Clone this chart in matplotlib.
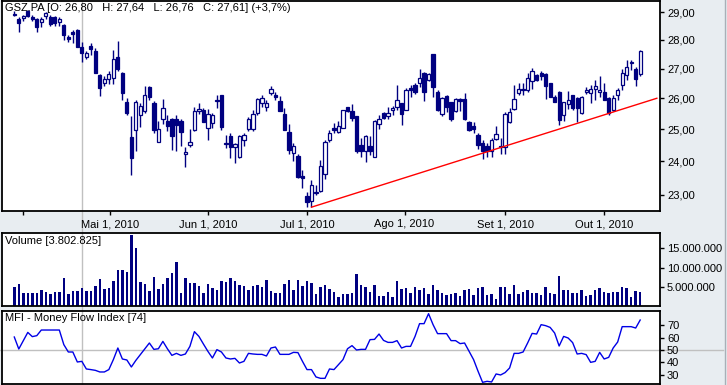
import numpy as np
import pandas as pd
import matplotlib
matplotlib.use('Agg')
import matplotlib.pyplot as plt
from matplotlib.lines import Line2D
from matplotlib.ticker import FixedLocator, NullLocator

plt.rcParams['font.family'] = ['Liberation Sans', 'DejaVu Sans']

# trading days Mar 30 - Oct 13 2010 (Euronext closed Apr 2 and Apr 5)
dates = pd.bdate_range('2010-03-30', '2010-10-13')
dates = dates[~dates.isin(pd.to_datetime(['2010-04-02', '2010-04-05']))]

opens = [28.95, 28.75, 28.78, 29.05, 28.84, 28.75, 28.66, 28.88, 28.84, 28.84,
         28.66, 28.53, 28.10, 28.28, 28.35, 27.74, 27.39, 27.78, 27.62, 26.79,
         26.51, 26.64, 26.68, 27.39, 26.84, 25.87, 24.74, 24.96, 25.44, 25.59,
         26.38, 25.84, 24.61, 25.33, 25.27, 25.33, 25.31, 25.27, 24.21, 24.50,
         24.98, 25.57, 25.60, 25.03, 25.19, 25.90, 26.10, 24.57, 24.77, 24.45,
         24.14, 24.67, 25.00, 25.00, 25.52, 25.84, 25.72, 26.17, 26.10, 25.92,
         25.49, 24.90, 24.26, 24.17, 23.55, 22.95, 22.82, 23.05, 23.12, 23.62,
         24.66, 25.02, 24.92, 25.05, 25.71, 25.59, 25.41, 24.50, 24.30, 24.46,
         24.12, 25.17, 25.52, 25.41, 25.63, 25.72, 25.84, 25.62, 26.33, 26.45,
         26.51, 26.85, 26.60, 27.50, 26.21, 25.48, 26.07, 25.89, 25.57, 25.97,
         25.97, 25.24, 25.10, 24.82, 24.55, 24.46, 24.30, 24.69, 24.45, 24.45,
         25.24, 25.65, 26.18, 26.31, 26.28, 26.57, 26.79, 26.85, 26.82, 26.50,
         26.05, 26.21, 25.44, 25.81, 26.10, 26.00, 25.52, 26.20, 26.18, 26.31,
         26.21, 26.21, 26.00, 25.62, 26.10, 26.45, 26.79, 27.18, 26.99, 26.80]
highs = [29.05, 28.84, 28.90, 29.10, 28.90, 28.78, 28.82, 29.00, 28.90, 28.87,
         28.82, 28.57, 28.17, 28.35, 28.38, 27.93, 27.62, 27.90, 27.70, 26.82,
         26.75, 26.93, 27.66, 27.95, 26.87, 26.02, 25.43, 25.95, 25.84, 26.40,
         26.40, 25.91, 25.27, 25.99, 25.46, 25.35, 25.46, 25.33, 24.45, 25.00,
         25.70, 25.86, 25.68, 25.65, 25.52, 26.10, 26.12, 24.82, 24.88, 24.55,
         24.80, 24.88, 25.38, 25.62, 26.02, 26.10, 25.95, 26.40, 26.22, 26.07,
         25.68, 25.17, 24.55, 24.23, 23.74, 23.07, 23.45, 23.28, 24.04, 24.67,
         24.96, 25.21, 25.27, 25.63, 25.72, 25.81, 25.43, 24.72, 24.82, 24.77,
         25.30, 25.46, 25.56, 25.72, 25.75, 26.45, 25.86, 26.35, 26.45, 26.52,
         26.98, 26.87, 26.85, 27.50, 26.28, 26.05, 26.12, 25.89, 26.00, 26.00,
         26.16, 25.27, 25.24, 24.89, 24.67, 24.55, 24.72, 25.10, 24.72, 25.54,
         25.68, 26.45, 26.52, 26.50, 26.85, 27.01, 26.82, 26.93, 26.85, 26.52,
         26.10, 26.23, 25.89, 26.23, 26.12, 26.03, 26.07, 26.38, 26.45, 26.61,
         26.75, 26.52, 26.03, 26.12, 26.35, 26.98, 27.30, 27.30, 27.05, 27.64]
lows = [28.85, 28.29, 28.70, 28.82, 28.70, 28.29, 28.47, 28.74, 28.51, 28.50,
        28.50, 27.99, 27.93, 27.90, 27.74, 27.24, 27.32, 27.48, 26.84, 26.07,
        26.42, 26.48, 26.48, 26.93, 25.95, 25.46, 23.59, 24.30, 25.08, 25.52,
        25.95, 24.88, 24.58, 25.15, 24.93, 24.35, 24.30, 24.46, 23.84, 24.44,
        24.95, 25.48, 25.24, 24.67, 25.03, 25.68, 24.98, 24.42, 24.09, 23.94,
        24.10, 24.46, 24.95, 24.93, 25.46, 25.72, 25.59, 26.11, 25.95, 25.57,
        24.96, 24.23, 24.02, 23.50, 23.20, 22.64, 22.64, 22.99, 23.09, 23.46,
        24.61, 24.89, 24.88, 25.03, 25.54, 25.27, 24.25, 24.14, 23.97, 24.20,
        24.12, 25.00, 25.31, 25.31, 25.46, 25.62, 25.14, 25.60, 26.05, 26.14,
        26.38, 25.92, 26.57, 26.05, 25.59, 25.43, 25.54, 25.27, 25.54, 25.57,
        25.30, 24.93, 24.88, 24.38, 24.06, 24.12, 24.14, 24.67, 24.23, 24.23,
        25.19, 25.62, 26.11, 26.11, 26.22, 26.31, 26.57, 26.62, 25.97, 26.03,
        25.87, 25.14, 25.27, 25.65, 25.62, 25.22, 25.50, 26.14, 25.86, 25.95,
        26.05, 25.95, 25.44, 25.59, 25.95, 26.28, 26.62, 26.96, 26.40, 26.76]
closes = [28.90, 28.60, 28.86, 28.86, 28.77, 28.47, 28.75, 28.96, 28.56, 28.60,
          28.75, 28.17, 28.05, 28.22, 27.76, 27.53, 27.55, 27.67, 26.85, 26.35,
          26.65, 26.82, 27.32, 26.98, 26.16, 25.52, 24.09, 25.87, 25.75, 26.10,
          26.05, 24.96, 25.00, 25.68, 25.10, 24.77, 25.14, 24.90, 24.27, 24.60,
          25.59, 25.65, 25.24, 25.48, 25.46, 25.93, 25.06, 24.53, 24.44, 24.52,
          24.77, 24.82, 25.31, 25.49, 25.97, 26.00, 25.84, 26.31, 26.05, 25.59,
          24.98, 24.35, 24.46, 23.52, 23.50, 22.78, 23.28, 23.08, 23.87, 24.60,
          24.89, 24.98, 25.10, 25.62, 25.59, 25.35, 24.30, 24.30, 24.79, 24.30,
          25.26, 25.33, 25.35, 25.52, 25.67, 25.95, 25.48, 26.27, 26.29, 26.21,
          26.68, 26.21, 26.82, 26.38, 25.62, 26.00, 25.72, 25.33, 25.97, 25.91,
          25.31, 24.96, 25.00, 24.51, 24.30, 24.30, 24.67, 24.84, 24.48, 25.48,
          25.56, 25.97, 26.31, 26.27, 26.68, 26.93, 26.60, 26.76, 26.42, 26.05,
          25.89, 25.30, 25.87, 25.95, 25.68, 25.68, 26.05, 26.28, 26.31, 26.41,
          26.28, 25.95, 25.52, 26.00, 26.28, 26.85, 27.05, 27.22, 26.64, 27.61]

# volume in millions of shares
volume = [5.0, 5.8, 3.45, 3.45, 3.45, 3.45, 4.2, 3.7, 3.2, 3.7,
          3.7, 7.3, 3.2, 4.0, 4.0, 4.7, 4.0, 4.0, 5.3, 7.1,
          4.5, 4.7, 6.6, 9.4, 9.4, 8.9, 18.4, 15.1, 6.3, 5.8,
          4.0, 7.6, 4.5, 5.8, 7.3, 8.6, 11.5, 3.45, 7.3, 6.0,
          6.0, 5.3, 3.45, 5.8, 4.7, 4.2, 6.6, 6.3, 7.3, 6.6,
          5.5, 5.3, 4.2, 5.3, 5.5, 5.0, 6.8, 4.0, 3.45, 3.45,
          5.8, 6.8, 4.2, 6.8, 5.3, 6.6, 6.0, 3.2, 5.0, 5.5,
          4.5, 3.7, 2.4, 3.2, 3.2, 3.45, 8.4, 5.5, 5.0, 3.7,
          5.5, 2.7, 2.7, 3.7, 2.4, 6.6, 4.5, 4.7, 3.45, 5.0,
          4.2, 4.7, 3.2, 5.5, 4.2, 3.45, 2.9, 3.2, 3.45, 2.7,
          4.2, 4.5, 2.9, 4.7, 5.0, 2.9, 3.2, 1.9, 5.0, 5.0,
          3.2, 5.5, 3.2, 3.7, 4.2, 3.45, 3.45, 2.9, 5.0, 3.45,
          3.2, 7.8, 4.2, 4.2, 3.45, 3.45, 4.2, 2.7, 2.9, 4.2,
          4.7, 3.7, 3.45, 3.7, 3.7, 5.0, 4.7, 2.4, 4.0, 3.8]

mfi = [60.4, 50.8, 57.5, 64.1, 60.7, 61.5, 66, 66, 66, 66,
       66, 54.3, 48.4, 48.4, 40.4, 40.9, 34.8, 34.3, 33.7, 32.4,
       32.4, 34.3, 42.3, 51.6, 42.8, 42, 36.4, 41.7, 46.3, 51,
       55.6, 50.5, 51, 56.9, 51, 45.7, 47.3, 45.7, 46.8, 52.9,
       64.7, 60.9, 54.8, 48.9, 43.6, 50.3, 48.4, 43.6, 42.8, 43.3,
       39.6, 40.9, 47.3, 46.8, 46.5, 46.5, 45.2, 51.6, 52.4, 46.5,
       46.5, 46.5, 48.1, 47.9, 40.9, 34.3, 34.3, 28.4, 27.3, 27.3,
       34.8, 34.3, 38.3, 42.3, 51, 53.5, 50, 50.5, 50.5, 58.3,
       58.5, 62.8, 57.7, 56.1, 56.1, 57.5, 51.6, 52.9, 52.9, 60.9,
       71.1, 71.1, 79.1, 70.3, 63.1, 63.1, 63.1, 57.5, 57.5, 55.1,
       55.6, 48.9, 42.3, 32.9, 24.1, 24.9, 24.4, 30.8, 30, 31.9,
       35.6, 47.3, 47.3, 48.4, 55.6, 63.3, 62.8, 70.3, 69.5, 68.1,
       63.6, 53.2, 60.9, 59.6, 55.9, 46.8, 47.3, 46.3, 40.1, 40.9,
       48.1, 42.8, 44.1, 51.6, 56.4, 68.7, 68.7, 68.7, 67.6, 74]

# support line drawn on the chart (bar index, price)
trend_x = [66, 142.7]
trend_y = [22.64, 26.00]

month_starts = ['2010-04-01', '2010-05-01', '2010-06-01', '2010-07-01',
                '2010-08-01', '2010-09-01', '2010-10-01']
month_labels = ['', 'Mai 1, 2010', 'Jun 1, 2010', 'Jul 1, 2010',
                'Ago 1, 2010', 'Set 1, 2010', 'Out 1, 2010']
price_ticks = [23, 24, 25, 26, 27, 28, 29]
vol_ticks = [5, 10, 15]
vol_labels = ['5.000.000', '10.000.000', '15.000.000']
mfi_ticks = [30, 40, 50, 60, 70]

navy = '#000080'
bg = '#E8EDF1'
grey = '#C0C0C0'
W, H = 727, 385

o = np.array(opens); h = np.array(highs); l = np.array(lows); c = np.array(closes)
x = np.arange(len(o))
xlim = (-2.73, 143.4)

fig = plt.figure(figsize=(W / 100, H / 100), dpi=100)
fig.patch.set_facecolor(bg)

def px_axes(left, top, right, bottom):
    return fig.add_axes([left / W, 1 - bottom / H, (right - left) / W, (bottom - top) / H])

ax = px_axes(2, 1, 660, 211)
axv = px_axes(2, 233, 660, 306.3)
axm = px_axes(2, 311.3, 660, 383.7)

for a in (ax, axv, axm):
    a.set_facecolor('white')
    a.set_xlim(*xlim)
    for s in a.spines.values():
        s.set_linewidth(1.3)
        s.set_color('black')
    a.yaxis.tick_right()
    a.tick_params(axis='y', direction='out', length=3, width=1, labelsize=8, pad=2,
                  colors='black')
    a.axvline(15, color=grey, lw=1, zorder=0.5)

# candles
up = c >= o
ax.vlines(x, l, h, color=navy, lw=1, zorder=2)
bottom = np.minimum(o, c)
height = np.maximum(np.abs(c - o), 0.02)
ax.bar(x, height, bottom=bottom, width=0.72,
       color=np.where(up, 'white', navy), edgecolor=navy, linewidth=0.9, zorder=3)
ax.plot(trend_x, trend_y, color='#FF0000', lw=1, zorder=4)
ax.set_yscale('log')
ax.set_ylim(22.53, 29.42)
ax.yaxis.set_major_locator(FixedLocator(price_ticks))
ax.yaxis.set_minor_locator(NullLocator())
ax.set_yticklabels([f'{t},00' for t in price_ticks])

tick_pos = np.interp(pd.to_datetime(month_starts).map(pd.Timestamp.toordinal),
                     dates.map(pd.Timestamp.toordinal), x)
ax.set_xticks(tick_pos)
ax.set_xticklabels(month_labels)
ax.tick_params(axis='x', direction='out', length=3, width=1, labelsize=8, pad=3)

# volume
axv.bar(x, volume, width=0.55, color=navy, zorder=2)
axv.set_ylim(0, 18.99)
axv.set_yticks(vol_ticks)
axv.set_yticklabels(vol_labels)
axv.set_xticks([])

# MFI
axm.axhline(50, color=grey, lw=1, zorder=0.5)
axm.plot(x, mfi, color='#0000E6', lw=1, zorder=2)
axm.set_ylim(23.0, 81.0)
axm.set_yticks(mfi_ticks)
axm.set_xticks([])

# crosshair parts outside the panels
fig.add_artist(Line2D([82 / W, 82 / W], [0, 1], transform=fig.transFigure,
                      color=grey, lw=1, zorder=-1))
fig.add_artist(Line2D([0, 723 / W], [1 - 350 / H] * 2, transform=fig.transFigure,
                      color=grey, lw=1, zorder=-1))
fig.add_artist(Line2D([724.5 / W] * 2, [0, 1], transform=fig.transFigure,
                      color='#A8B0B8', lw=1))

fig.text(5 / W, 1 - 3 / H,
         'GSZ.PA [O: 26,80   H: 27,64   L: 26,76   C: 27,61] (+3,7%)',
         fontsize=8, va='top', ha='left')
fig.text(5 / W, 1 - 236 / H, 'Volume [3.802.825]', fontsize=8, va='top', ha='left')
fig.text(5 / W, 1 - 313 / H, 'MFI - Money Flow Index [74]', fontsize=8, va='top', ha='left')

fig.savefig('out.png', dpi=100, facecolor=bg)
